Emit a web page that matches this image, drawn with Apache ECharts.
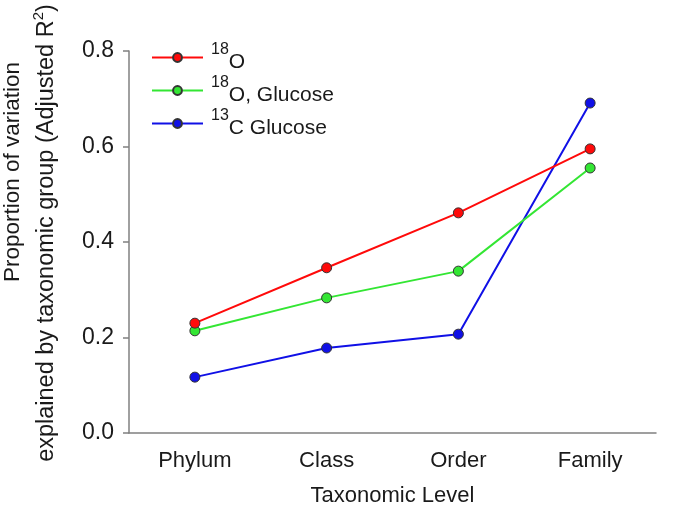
<!DOCTYPE html>
<html>
<head>
<meta charset="utf-8">
<script src="https://cdn.jsdelivr.net/npm/echarts@6/dist/echarts.min.js"></script>
<style>
html,body{margin:0;padding:0;background:#fff;}
#chart{width:674px;height:507px;}
</style>
</head>
<body>
<div id="chart"></div>
<script>
var categories = ['Phylum', 'Class', 'Order', 'Family'];
var seriesNames = ['18O', '18O, Glucose', '13C Glucose'];
var supText = ['18', '18', '13'];
var mainText = ['O', 'O, Glucose', 'C Glucose'];
var o18 = [0.230, 0.346, 0.461, 0.595];
var o18Glucose = [0.214, 0.283, 0.339, 0.555];
var c13Glucose = [0.117, 0.178, 0.207, 0.691];
var yTicks = [0.0, 0.2, 0.4, 0.6, 0.8];
var xAxisTitle = 'Taxonomic Level';
var yTitleLine1 = 'Proportion of variation';
var yTitleLine2 = 'explained by taxonomic group (Adjusted R';
var yTitleSup = '2';

var colors = ['#ff0a0a', '#33e633', '#1010e6'];
var seriesData = [o18, o18Glucose, c13Glucose];
var FONT = '"Liberation Sans", Arial, sans-serif';

var chart = echarts.init(document.getElementById('chart'));

var series = seriesData.map(function (d, i) {
  return {
    name: seriesNames[i],
    type: 'line',
    data: d,
    symbol: 'circle',
    symbolSize: 10,
    lineStyle: { color: colors[i], width: 2 },
    itemStyle: { color: colors[i], borderColor: '#333', borderWidth: 1 },
    z: 3 - i
  };
});

chart.setOption({
  animation: false,
  backgroundColor: '#fff',
  grid: { left: 129, right: 18, top: 51, bottom: 74, containLabel: false, outerBoundsMode: 'none' },
  legend: {
    orient: 'vertical',
    left: 146,
    top: 37,
    itemWidth: 51,
    itemHeight: 11,
    itemGap: 2,
    data: seriesNames,
    formatter: function (name) {
      var i = seriesNames.indexOf(name);
      return '{sup|' + supText[i] + '}{m|' + mainText[i] + '}';
    },
    textStyle: {
      fontFamily: FONT,
      color: '#1a1a1a',
      padding: [0, 0, 0, 3],
      rich: {
        sup: { fontSize: 16, fontFamily: FONT, color: '#1a1a1a', lineHeight: 16, verticalAlign: 'top' },
        m: { fontSize: 21, fontFamily: FONT, color: '#1a1a1a', lineHeight: 31, verticalAlign: 'bottom' }
      }
    }
  },
  xAxis: {
    type: 'category',
    data: categories,
    boundaryGap: true,
    name: xAxisTitle,
    nameLocation: 'middle',
    nameGap: 52,
    nameTextStyle: { fontFamily: FONT, fontSize: 22, color: '#1a1a1a' },
    axisLine: { lineStyle: { color: '#808080', width: 1.5 } },
    axisTick: { alignWithLabel: true, inside: false, length: 5, lineStyle: { color: '#808080', width: 1.5 } },
    axisLabel: { fontFamily: FONT, fontSize: 22, color: '#1a1a1a', margin: 17 },
    splitLine: { show: false }
  },
  yAxis: {
    type: 'value',
    min: yTicks[0],
    max: yTicks[yTicks.length - 1],
    interval: 0.2,
    axisLine: { show: true, lineStyle: { color: '#808080', width: 1.5 } },
    axisTick: { show: true, inside: false, length: 6, lineStyle: { color: '#808080', width: 1.5 } },
    axisLabel: {
      fontFamily: FONT, fontSize: 23, color: '#1a1a1a', margin: 15,
      formatter: function (v) { return v.toFixed(1); }
    },
    splitLine: { show: false }
  },
  graphic: [
    {
      type: 'text',
      x: 13, y: 172,
      rotation: Math.PI / 2,
      style: {
        text: yTitleLine1,
        fontFamily: FONT, fontSize: 22.5, fill: '#1a1a1a',
        align: 'center', verticalAlign: 'middle'
      }
    },
    {
      type: 'text',
      x: 45, y: 233,
      rotation: Math.PI / 2,
      style: {
        text: '{m|' + yTitleLine2 + '}{s|' + yTitleSup + '}{m|)}',
        fontFamily: FONT, fontSize: 23.5, fill: '#1a1a1a',
        align: 'center', verticalAlign: 'middle',
        rich: {
          m: { fontFamily: FONT, fontSize: 23.5, fill: '#1a1a1a', lineHeight: 28, verticalAlign: 'bottom' },
          s: { fontFamily: FONT, fontSize: 15, fill: '#1a1a1a', lineHeight: 15, verticalAlign: 'top' }
        }
      }
    }
  ],
  series: series
});
</script>
</body>
</html>
